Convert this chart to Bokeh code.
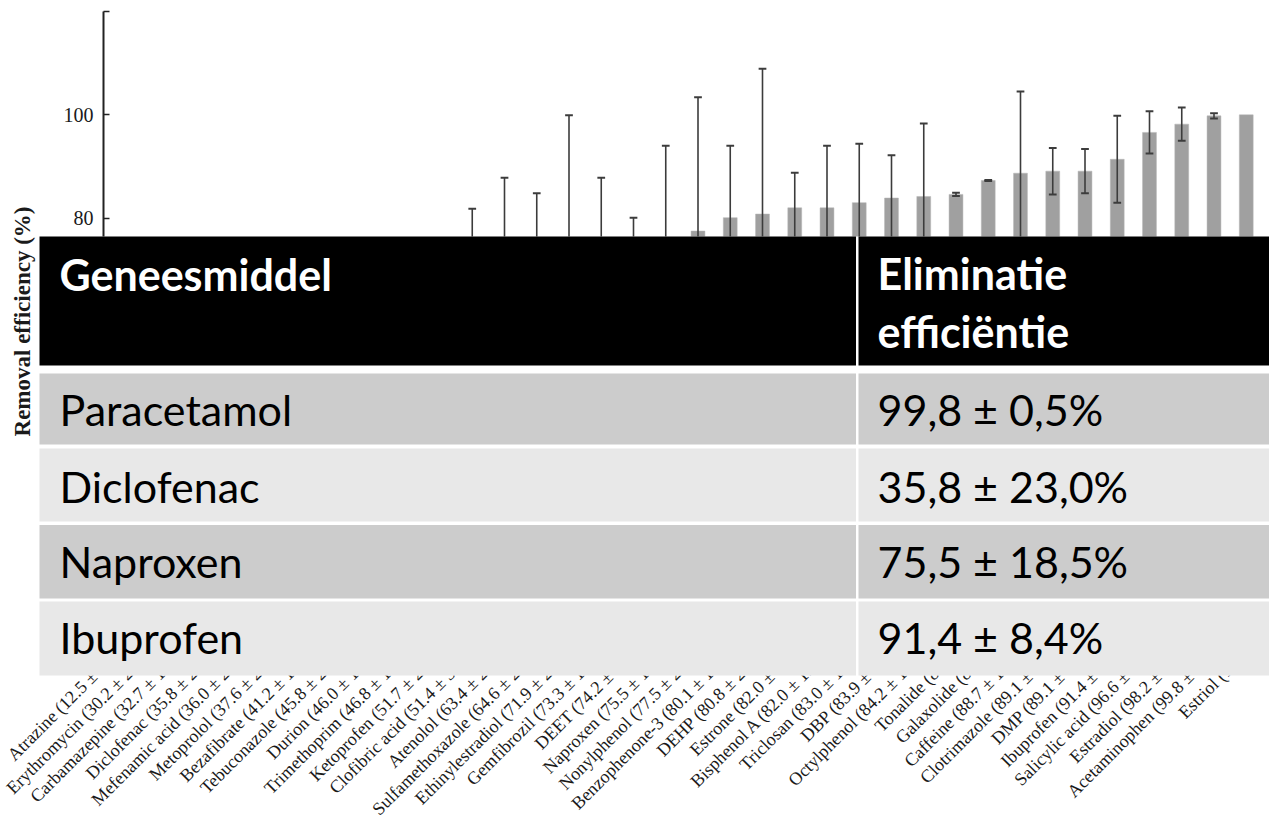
from math import pi
from bokeh.plotting import figure
from bokeh.models import Range1d, FixedTicker, ColumnDataSource
from bokeh.core.properties import value
from bokeh.embed import file_html
from bokeh.resources import INLINE

# ---------------- data ----------------
compounds = ["Atrazine", "Erythromycin", "Carbamazepine", "Diclofenac", "Mefenamic acid",
             "Metoprolol", "Bezafibrate", "Tebuconazole", "Durion", "Trimethoprim",
             "Ketoprofen", "Clofibric acid", "Atenolol", "Sulfamethoxazole", "Ethinylestradiol",
             "Gemfibrozil", "DEET", "Naproxen", "Nonylphenol", "Benzophenone-3", "DEHP",
             "Estrone", "Bisphenol A", "Triclosan", "DBP", "Octylphenol", "Tonalide",
             "Galaxolide", "Caffeine", "Clotrimazole", "DMP", "Ibuprofen", "Salicylic acid",
             "Estradiol", "Acetaminophen", "Estriol"]
removal = [12.5, 30.2, 32.7, 35.8, 36.0, 37.6, 41.2, 45.8, 46.0, 46.8, 51.7, 51.4,
           63.4, 64.6, 71.9, 73.3, 74.2, 75.5, 77.5, 80.1, 80.8, 82.0, 82.0, 83.0,
           83.9, 84.2, 84.6, 87.3, 88.7, 89.1, 89.1, 91.4, 96.6, 98.2, 99.8, 100.0]
removal_sd = [9.8, 21.5, 18.0, 23.0, 26.1, 20.4, 17.8, 22.0, 15.3, 19.6, 20.9, 30.4,
              24.4, 20.2, 28.0, 14.5, 5.9, 18.5, 25.9, 13.9, 28.1, 6.8, 12.0, 11.4,
              8.3, 14.1, 0.3, 0.1, 15.8, 4.5, 4.3, 8.4, 4.1, 3.2, 0.5, 0.0]
# compounds whose label shows only the mean (single measurement)
mean_only = ["Tonalide", "Galaxolide", "Estriol"]
y_ticks = [0, 20, 40, 60, 80, 100, 120]

table_header = ["Geneesmiddel", "Eliminatie", "efficiëntie"]
table_drugs = ["Paracetamol", "Diclofenac", "Naproxen", "Ibuprofen"]
table_eff = ["99,8 ± 0,5%", "35,8 ± 23,0%", "75,5 ± 18,5%", "91,4 ± 8,4%"]

# ---------------- geometry helpers (picture pixels -> data) ----------------
W, H = 1269, 815
X0_PX, PITCH = 117.0, 32.25          # x of first category, category pitch
Y0_PX, PX_PER_UNIT = 631.0, 620.0 / 120.0   # y of value 0, pixels per unit


def X(px):
    return (px - X0_PX) / PITCH


def Y(py):
    return (Y0_PX - py) / PX_PER_UNIT


p = figure(width=W, height=H, output_backend="svg", toolbar_location=None, tools="",
           x_range=Range1d(X(0), X(W)), y_range=Range1d(Y(H), Y(0)),
           min_border=0, min_border_left=0, min_border_right=0,
           min_border_top=0, min_border_bottom=0)
p.outline_line_color = None
p.xgrid.visible = False
p.ygrid.visible = False
p.background_fill_color = "white"
p.border_fill_color = "white"

idx = list(range(len(compounds)))


def fmt(c, m, s):
    if c in mean_only:
        return f"{c} ({m:g})"
    return f"{c} ({m:.1f} ± {s:.1f})"


labels = [fmt(c, m, s) for c, m, s in zip(compounds, removal, removal_sd)]

# bars
src = ColumnDataSource(dict(x=idx, top=removal))
p.vbar(x="x", top="top", bottom=0, width=0.43, source=src,
       fill_color="#a0a0a0", line_color="#b4b4b4", line_width=0.5)

# error bars
ex = [i for i, s in zip(idx, removal_sd) if s > 0]
em = [m for m, s in zip(removal, removal_sd) if s > 0]
es = [s for s in removal_sd if s > 0]
esrc = ColumnDataSource(dict(x=ex, lo=[m - s for m, s in zip(em, es)],
                             hi=[m + s for m, s in zip(em, es)],
                             xl=[x - 0.12 for x in ex], xr=[x + 0.12 for x in ex]))
p.segment(x0="x", y0="lo", x1="x", y1="hi", source=esrc, line_color="#3c3c3c", line_width=1.6)
p.segment(x0="xl", y0="hi", x1="xr", y1="hi", source=esrc, line_color="#3c3c3c", line_width=2)
p.segment(x0="xl", y0="lo", x1="xr", y1="lo", source=esrc, line_color="#3c3c3c", line_width=2)

# y axis
ya = p.yaxis[0]
ya.fixed_location = X(103)
ya.bounds = (0, 120)
ya.ticker = FixedTicker(ticks=y_ticks)
ya.major_label_overrides = {120: ""}
ya.major_tick_in = 6
ya.major_tick_out = 0
ya.minor_tick_line_color = None
ya.axis_line_color = "#222222"
ya.axis_line_width = 2
ya.major_tick_line_color = "#222222"
ya.major_tick_line_width = 1.5
ya.major_label_text_font = "Liberation Serif"
ya.major_label_text_font_size = "20px"
ya.major_label_text_color = "#1a1a1a"
ya.major_label_standoff = 10
ya.axis_label = "Removal efficiency (%)"
ya.axis_label_text_font = "Liberation Serif"
ya.axis_label_text_font_style = "bold"
ya.axis_label_text_font_size = "23px"
ya.axis_label_text_color = "#1a1a1a"
ya.axis_label_standoff = 26

# x axis
xa = p.xaxis[0]
xa.fixed_location = 0
xa.ticker = FixedTicker(ticks=idx)
xa.major_label_overrides = {i: lab for i, lab in zip(idx, labels)}
xa.major_label_orientation = pi / 4
xa.major_tick_out = 0
xa.major_tick_in = 0
xa.minor_tick_line_color = None
xa.axis_line_color = None
xa.major_label_standoff = 19
xa.major_label_text_font = "Liberation Serif"
xa.major_label_text_font_size = "18px"
xa.major_label_text_color = "#1a1a1a"

# ---------------- table overlay ----------------
col_l, col_sep_l, col_sep_r, col_r = 39, 855.5, 858, 1280
rows = [(236, 365), (373, 444), (448, 521), (524.5, 598), (601, 675)]
row_fill = ["#000000", "#cccccc", "#e8e8e8", "#cccccc", "#e8e8e8"]

p.quad(left=[X(col_l)], right=[X(col_r)], top=[Y(rows[0][0])], bottom=[Y(rows[-1][1])],
       fill_color="white", line_color=None, level="annotation")
ql, qr, qt, qb, qc = [], [], [], [], []
for (t, b), c in zip(rows, row_fill):
    for l, r in ((col_l, col_sep_l), (col_sep_r, col_r)):
        ql.append(X(l)); qr.append(X(r)); qt.append(Y(t)); qb.append(Y(b)); qc.append(c)
p.quad(left=ql, right=qr, top=qt, bottom=qb, fill_color=qc, line_color=None, level="annotation")

tx = [X(59), X(877), X(877)]
ty = [Y(274), Y(272.5), Y(331)]
p.text(x=tx, y=ty, text=table_header, text_color="white", text_font=value("Lato"),
       text_font_style="bold", text_font_size="43px", text_baseline="alphabetic",
       level="annotation")
row_base = [408.5, 486, 561, 637]
p.text(x=[X(59)] * 4, y=[Y(b) for b in row_base], text=table_drugs, text_color="black",
       text_font=value("Lato"), text_font_size="43px", text_baseline="alphabetic",
       level="annotation")
p.text(x=[X(877)] * 4, y=[Y(b) for b in row_base], text=table_eff, text_color="black",
       text_font=value("Lato"), text_font_size="43px", text_baseline="alphabetic",
       level="annotation")

open("out.html", "w").write(file_html(p, INLINE))
